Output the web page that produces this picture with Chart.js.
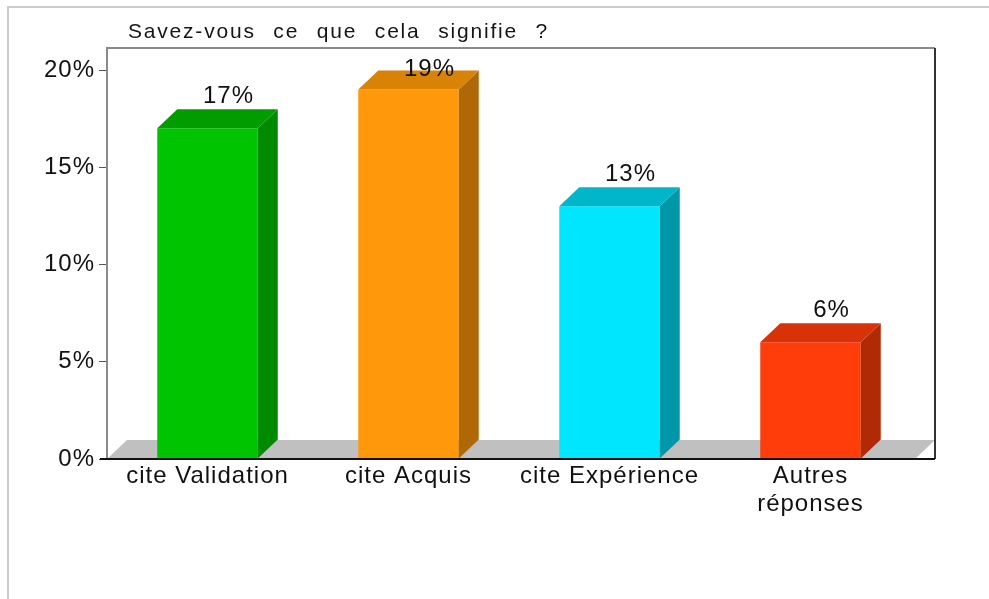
<!DOCTYPE html>
<html>
<head>
<meta charset="utf-8">
<script src="https://cdn.jsdelivr.net/npm/chart.js@4.4.0/dist/chart.umd.min.js"></script>
<style>
  html, body { margin: 0; padding: 0; background: #fff; }
  #wrap { width: 989px; height: 599px; position: relative; }
</style>
</head>
<body>
<div id="wrap"><canvas id="chart"></canvas></div>
<script>
// data
const categories = ['cite Validation', 'cite Acquis', 'cite Expérience', ['Autres', 'réponses']];
const values = [17, 19, 13, 6];
const yTicks = [0, 5, 10, 15, 20];
const chartTitle = 'Savez-vous ce que cela signifie ?';

// colours: front face, side face, top face
const frontColors = ['#00c400', '#ff980a', '#00e6ff', '#ff3d0a'];
const sideColors = ['#008a00', '#b06806', '#0098a8', '#b02a06'];
const topColors = ['#009c00', '#d88206', '#00b6c8', '#d83308'];

const dx = 20, dy = 19;
const fontFamily = '"Liberation Sans", Arial, sans-serif';

const box3d = {
    id: 'box3d',
    beforeDraw(chart) {
        const ctx = chart.ctx;
        // the text in the picture is a bit wide, spread it out a little
        ctx.letterSpacing = '1px';

        ctx.save();
        // light outer border
        ctx.strokeStyle = '#cccccc';
        ctx.lineWidth = 2;
        ctx.beginPath();
        ctx.moveTo(8, 599);
        ctx.lineTo(8, 7);
        ctx.lineTo(989, 7);
        ctx.stroke();

        // title
        ctx.fillStyle = '#151515';
        ctx.font = '21px ' + fontFamily;
        ctx.textBaseline = 'middle';
        ctx.textAlign = 'left';
        ctx.letterSpacing = '1.8px';
        ctx.wordSpacing = '10px';
        ctx.fillText(chartTitle, 128, 32);
        ctx.restore();
    },
    beforeDatasetsDraw(chart) {
        const ctx = chart.ctx;
        const a = chart.chartArea;
        const backTop = a.top - 22;
        const farRight = a.right + 24;
        ctx.save();
        // floor
        ctx.fillStyle = '#c0c0c0';
        ctx.beginPath();
        ctx.moveTo(a.left, a.bottom);
        ctx.lineTo(a.left + dx, a.bottom - dy);
        ctx.lineTo(farRight, a.bottom - dy);
        ctx.lineTo(farRight - dx, a.bottom);
        ctx.closePath();
        ctx.fill();
        // back frame
        ctx.strokeStyle = '#8a8a8a';
        ctx.lineWidth = 2;
        ctx.beginPath();
        ctx.moveTo(a.left, a.bottom);
        ctx.lineTo(a.left, backTop);
        ctx.lineTo(farRight, backTop);
        ctx.stroke();
        ctx.strokeStyle = '#333';
        ctx.beginPath();
        ctx.moveTo(farRight, backTop);
        ctx.lineTo(farRight, a.bottom);
        ctx.stroke();
        ctx.restore();
    },
    afterDatasetsDraw(chart) {
        const ctx = chart.ctx;
        const a = chart.chartArea;
        const meta = chart.getDatasetMeta(0);
        ctx.save();
        meta.data.forEach(function(bar, i) {
            const left = bar.x - bar.width / 2;
            const right = bar.x + bar.width / 2;
            // side face
            ctx.fillStyle = sideColors[i];
            ctx.beginPath();
            ctx.moveTo(right, bar.y);
            ctx.lineTo(right + dx, bar.y - dy);
            ctx.lineTo(right + dx, bar.base - dy);
            ctx.lineTo(right, bar.base);
            ctx.closePath();
            ctx.fill();
            // top face
            ctx.fillStyle = topColors[i];
            ctx.beginPath();
            ctx.moveTo(left, bar.y);
            ctx.lineTo(left + dx, bar.y - dy);
            ctx.lineTo(right + dx, bar.y - dy);
            ctx.lineTo(right, bar.y);
            ctx.closePath();
            ctx.fill();
        });
        // value labels
        ctx.fillStyle = '#111';
        ctx.font = '24px ' + fontFamily;
        ctx.textAlign = 'center';
        ctx.textBaseline = 'middle';
        meta.data.forEach(function(bar, i) {
            const y = Math.max(bar.y - 32, a.top - 1);
            ctx.fillText(values[i] + '%', bar.x + 21, y);
        });
        // front floor edge
        ctx.strokeStyle = '#111';
        ctx.lineWidth = 2;
        ctx.beginPath();
        ctx.moveTo(a.left - 7, a.bottom);
        ctx.lineTo(a.right + 24, a.bottom);
        ctx.stroke();
        ctx.restore();
    }
};

new Chart(document.getElementById('chart'), {
    type: 'bar',
    data: {
        labels: categories,
        datasets: [{
            data: values,
            backgroundColor: frontColors,
            borderWidth: 0,
            barPercentage: 0.5,
            categoryPercentage: 1
        }]
    },
    options: {
        responsive: true,
        maintainAspectRatio: false,
        animation: false,
        layout: { padding: { top: 70, right: 78, left: 0, bottom: 0 } },
        plugins: {
            legend: { display: false },
            tooltip: { enabled: false }
        },
        scales: {
            x: {
                grid: { display: false },
                border: { display: false },
                ticks: {
                    color: '#111',
                    padding: -5,
                    maxRotation: 0,
                    font: { size: 24, family: fontFamily, lineHeight: 1.17 }
                },
                afterFit: function(scale) { scale.height = 140; }
            },
            y: {
                min: 0,
                max: 20,
                afterBuildTicks: function(scale) {
                    scale.ticks = yTicks.map(v => ({ value: v }));
                },
                grid: { drawOnChartArea: false, drawTicks: true, tickLength: 8, color: '#555' },
                border: { display: false },
                ticks: {
                    color: '#111',
                    padding: 4,
                    font: { size: 24, family: fontFamily },
                    callback: function(v) { return v + '%'; }
                },
                afterFit: function(scale) { scale.width = 107; }
            }
        }
    },
    plugins: [box3d]
});
</script>
</body>
</html>
